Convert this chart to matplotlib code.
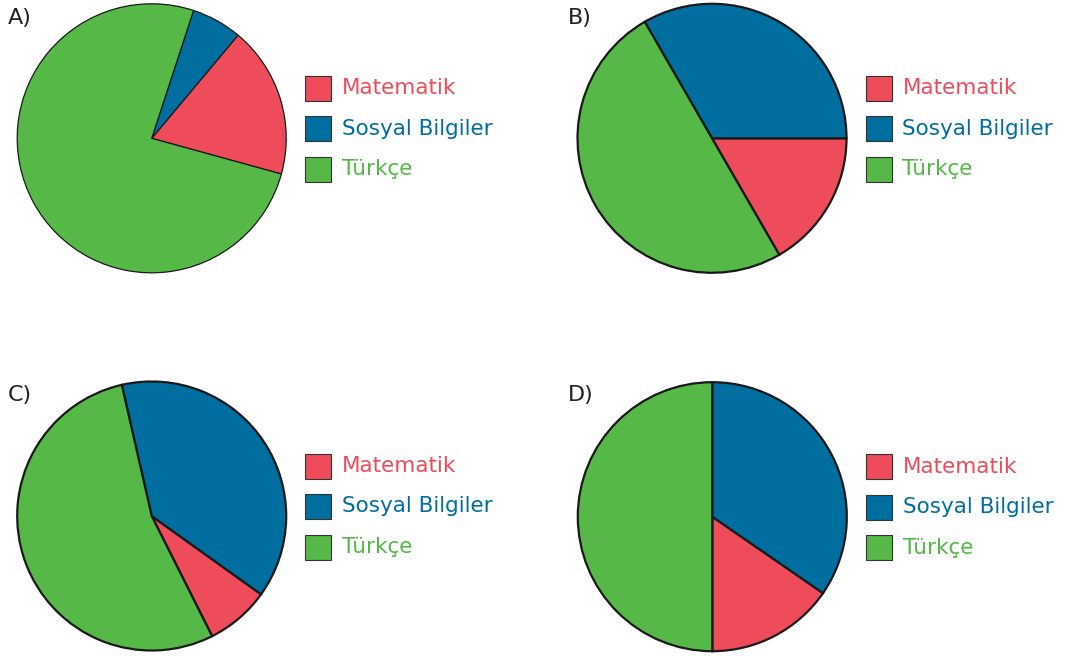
import matplotlib
matplotlib.use("Agg")
import matplotlib.pyplot as plt
from matplotlib.patches import Rectangle

W, H = 1065, 656

categories = ["Matematik", "Sosyal Bilgiler", "Türkçe"]
colors = ["#EE4B5B", "#006E9F", "#56B847"]

panel_labels = ["A)", "B)", "C)", "D)"]
values_A = [6, 2, 25]
values_B = [1, 2, 3]
values_C = [1, 5, 7]
values_D = [4, 9, 13]
start_angles = [-15.4, -60, -63.3, -90]

all_values = [values_A, values_B, values_C, values_D]
centers = [(151.7, 138.3), (712.0, 138.3), (151.7, 516.0), (712.3, 516.7)]
radius_px = 134.5
line_widths = [0.9, 1.6, 1.6, 1.6]
label_pos = [(8, 18), (568, 18), (8, 395), (568, 395)]

fig = plt.figure(figsize=(W / 100, H / 100), dpi=100)
fig.patch.set_facecolor("white")

pad = 1.04
for vals, (cx, cy), sa, lw, lab, (lx, ly) in zip(all_values, centers, start_angles,
                                                 line_widths, panel_labels, label_pos):
    rr = radius_px * pad
    ax = fig.add_axes([(cx - rr) / W, (H - cy - rr) / H, 2 * rr / W, 2 * rr / H])
    ax.pie(vals, colors=colors, startangle=sa, counterclock=True, radius=1,
           wedgeprops=dict(edgecolor="#1a1a1a", linewidth=lw))
    ax.set_xlim(-pad, pad)
    ax.set_ylim(-pad, pad)
    ax.set_aspect("equal")
    ax.axis("off")

    fig.text(lx / W, 1 - ly / H, lab, fontsize=16, color="#222222",
             ha="left", va="center")

    # legend
    bx = cx + 153.5
    for i, (cat, col) in enumerate(zip(categories, colors)):
        yc = cy - 50 + i * 40.5
        fig.patches.append(Rectangle(((bx) / W, 1 - (yc + 12.5) / H), 26 / W, 25 / H,
                                     transform=fig.transFigure, facecolor=col,
                                     edgecolor="#333333", linewidth=0.8))
        fig.text((bx + 37) / W, 1 - yc / H, cat, fontsize=15.5, color=col,
                 ha="left", va="center")

fig.savefig("out.png", dpi=100)
